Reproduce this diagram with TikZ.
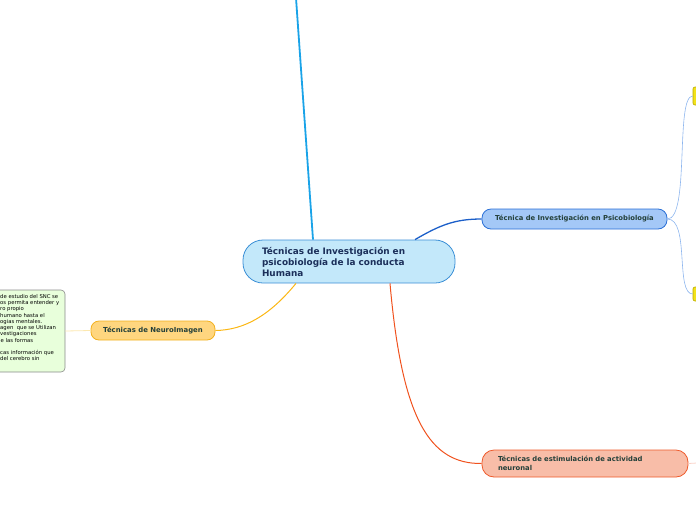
\documentclass[tikz,border=0pt]{standalone}
\usepackage{fontspec}
\setmainfont{DejaVu Sans}
\begin{document}
\begin{tikzpicture}[x=1pt,y=-1pt,
  box/.style={draw,line width=0.8pt,font=\bfseries},
  conn/.style={line width=1pt}]
\useasboundingbox (0,0) rectangle (696,520);
\clip (0,0) rectangle (696,520);
\definecolor{cfill}{HTML}{C3E8FA}\definecolor{cdraw}{HTML}{3B8FD6}
\definecolor{pfill}{HTML}{A4C8F7}\definecolor{pdraw}{HTML}{2A6FD6}
\definecolor{ofill}{HTML}{F8BDA8}\definecolor{odraw}{HTML}{EE5A2B}
\definecolor{nfill}{HTML}{FFD67F}\definecolor{ndraw}{HTML}{F2B01E}
\definecolor{gfill}{HTML}{E8FFDB}\definecolor{gdraw}{HTML}{8A8A8A}
\definecolor{yfill}{HTML}{F2E21A}\definecolor{ydraw}{HTML}{B8A800}
\definecolor{txt}{HTML}{1B2F5A}\definecolor{txt2}{HTML}{24403A}
% nodes
\node[box,fill=cfill,draw=cdraw,rounded corners=20pt,minimum width=212pt,minimum height=43pt,
  text width=174pt,align=left,inner xsep=19pt,inner ysep=0pt,font=\bfseries\fontsize{8.9}{11}\selectfont,text=txt]
  (c) at (349,261.5) {Técnicas de Investigación en\\psicobiología de la conducta\\Humana};
\node[box,fill=pfill,draw=pdraw,rounded corners=9pt,minimum width=185pt,minimum height=20pt,
  font=\bfseries\fontsize{6.8}{8}\selectfont,text=txt2,inner sep=0pt]
  (p) at (574.5,219) {Técnica de Investigación en Psicobiología};
\node[box,fill=ofill,draw=odraw,rounded corners=12pt,minimum width=206pt,minimum height=27pt,
  text width=174pt,align=left,inner xsep=16pt,inner ysep=0pt,font=\bfseries\fontsize{6.8}{9.5}\selectfont,text=txt2]
  (o) at (585,463.5) {Técnicas de estimulación de actividad\\neuronal};
\node[box,fill=nfill,draw=ndraw,rounded corners=8pt,minimum width=124pt,minimum height=19pt,
  font=\bfseries\fontsize{6.9}{8}\selectfont,text=txt2,inner sep=0pt]
  (n) at (153,330.5) {Técnicas de NeuroImagen};
\node[draw=gdraw,fill=gfill,line width=0.6pt,rounded corners=4pt,minimum width=80pt,minimum height=82pt,inner sep=0pt]
  (g) at (25,331) {};
\node[draw=ydraw,fill=yfill,line width=0.6pt,rounded corners=2pt,minimum width=10pt,minimum height=18pt,inner sep=0pt]
  (y1) at (698,96) {};
\node[draw=ydraw,fill=yfill,line width=0.6pt,rounded corners=2pt,minimum width=10pt,minimum height=14pt,inner sep=0pt]
  (y2) at (698,294) {};
% green text fragments
\begin{scope}[every node/.style={anchor=west,inner sep=0pt,font=\fontsize{5.3}{6}\selectfont,text=black}]
\node (g1) at (0,297) {de estudio del SNC se};
\node (g2) at (0,303.2) {os permita entender y};
\node (g3) at (0,309.4) {ro propio};
\node (g4) at (0,315.6) {humano hasta el};
\node (g5) at (0,321.8) {ogias mentales.};
\node (g6) at (0,328) {agen \ que se Utilizan};
\node (g7) at (0,334.2) {vestigaciones};
\node (g8) at (0.5,340.4) {e las formas};
\node (g9) at (0,352.8) {cas información que};
\node (g10) at (0,359) {del cerebro sin};
\end{scope}
% connectors
\coordinate (top) at (296,-2);
\coordinate (rend) at (697,463);
\draw[line width=1.8pt,color={rgb,255:red,26;green,163;blue,232}] (top) -- ([xshift=-36pt]c.north);
\draw[conn,line width=1.3pt,color={rgb,255:red,28;green,95;blue,201}] ([xshift=66pt]c.north) .. controls (440,225) and (455,219) .. (p.west);
\draw[conn,color={rgb,255:red,240;green,82;blue,30}] ([xshift=41pt]c.south) .. controls (402,420) and (430,464) .. (o.west);
\draw[conn,color={rgb,255:red,251;green,183;blue,20}] ([xshift=-53pt]c.south) .. controls (270,315) and (245,330) .. (n.east);
\draw[line width=0.6pt,color={rgb,255:red,141;green,182;blue,238}] (p.east) .. controls (690,219) and (675,96) .. (y1.west);
\draw[line width=0.6pt,color={rgb,255:red,141;green,182;blue,238}] (p.east) .. controls (690,219) and (675,294) .. (y2.west);
\draw[line width=0.8pt,color={rgb,255:red,252;green,232;blue,176}] (n.west) -- (g.east);
\draw[line width=0.8pt,color={rgb,255:red,250;green,210;blue,200}] (o.east) -- (rend);
\end{tikzpicture}
\end{document}
